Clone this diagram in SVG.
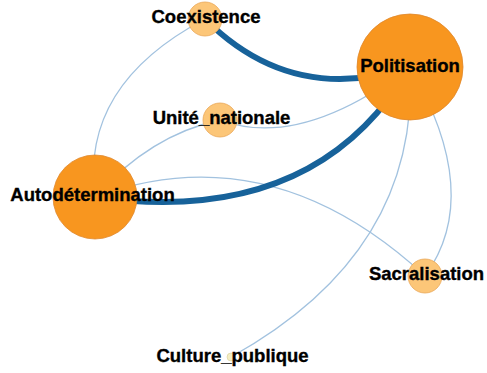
<svg xmlns="http://www.w3.org/2000/svg" width="487" height="373" viewBox="0 0 487 373">
<style>
.thick{fill:none;stroke:#17629a;stroke-width:6;stroke-linecap:round}
.thin{fill:none;stroke:#a2c2df;stroke-width:1.3}
.big{fill:#f8961f;stroke:#e0882c;stroke-width:0.8}
.small{fill:#fcc678;stroke:#eaa85a;stroke-width:0.8}
.tiny{fill:#f4eec4;stroke:#d9cf9a;stroke-width:0.6}
.lbl{font-family:"Liberation Sans",Arial,sans-serif;font-weight:bold;font-size:18.5px;fill:#000;stroke:#000;stroke-width:0.35;text-anchor:middle}
</style>
<rect width="487" height="373" fill="#ffffff"/>
<g id="connectors">
<path class="thin" d="M205,19 Q80,85 95,197"/>
<path class="thin" d="M95,197 Q150,135 220,120"/>
<path class="thin" d="M95,197 Q270,133 425,276"/>
<path class="thin" d="M220,120 Q300,150 410,67"/>
<path class="thin" d="M410,67 Q484,195 425,276"/>
<path class="thin" d="M410,67 Q420,252 231,357"/>
<path class="thick" d="M205,19 Q292,106 410,67"/>
<path class="thick" d="M95,197 Q315,228 410,67"/>
</g>
<g id="node-politisation"><circle class="big" cx="410" cy="67" r="53"/><text class="lbl" x="410" y="72">Politisation</text></g>
<g id="node-autodetermination"><circle class="big" cx="95" cy="197" r="42"/><text class="lbl" x="92.5" y="201">Autodétermination</text></g>
<g id="node-coexistence"><circle class="small" cx="205" cy="19" r="17"/><text class="lbl" x="206" y="22.5">Coexistence</text></g>
<g id="node-unite-nationale"><circle class="small" cx="220" cy="120" r="17"/><text class="lbl" x="221.5" y="123.5">Unité_nationale</text></g>
<g id="node-sacralisation"><circle class="small" cx="425" cy="276" r="17"/><text class="lbl" x="426.5" y="280">Sacralisation</text></g>
<g id="node-culture-publique"><circle class="tiny" cx="231" cy="357" r="4"/><text class="lbl" x="232.5" y="361.5">Culture_publique</text></g>
</svg>
